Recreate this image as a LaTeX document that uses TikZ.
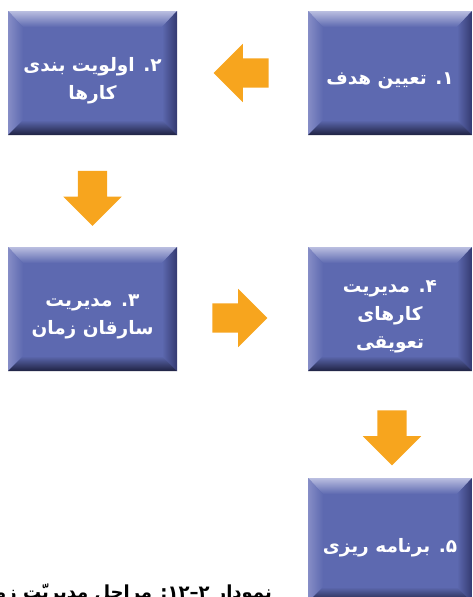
\documentclass[tikz,border=0pt]{standalone}
\usepackage{fontspec}
\usetikzlibrary{shapes.arrows,calc}
\TeXXeTstate=1
\newfontfamily\persianfont[Script=Arabic]{DejaVu Sans}
\definecolor{stepbase}{HTML}{5D69B0}
\definecolor{steptop}{HTML}{BABEE0}
\definecolor{stepleft}{HTML}{868DC6}
\definecolor{stepright}{HTML}{343A70}
\definecolor{stepbottom}{HTML}{1F2242}
\definecolor{arrowfill}{HTML}{F7A51E}
\tikzset{
  stepbox/.style={rectangle, fill=stepbase, minimum height=124pt, inner sep=0pt,
    path picture={
      \coordinate (nw) at (path picture bounding box.north west);
      \coordinate (ne) at (path picture bounding box.north east);
      \coordinate (sw) at (path picture bounding box.south west);
      \coordinate (se) at (path picture bounding box.south east);
      \shade[top color=steptop, bottom color=stepbase] (nw) -- (ne)
        -- ([xshift=-15pt,yshift=-16pt]ne) -- ([xshift=15pt,yshift=-16pt]nw) -- cycle;
      \shade[left color=stepleft, right color=stepbase] (nw) -- ([xshift=15pt,yshift=-16pt]nw)
        -- ([xshift=15pt,yshift=15pt]sw) -- (sw) -- cycle;
      \shade[left color=stepbase, right color=stepright] (ne) -- ([xshift=-15pt,yshift=-16pt]ne)
        -- ([xshift=-15pt,yshift=15pt]se) -- (se) -- cycle;
      \shade[top color=stepbase, bottom color=stepbottom] (sw) -- ([xshift=15pt,yshift=15pt]sw)
        -- ([xshift=-15pt,yshift=15pt]se) -- (se) -- cycle;
    }},
  steptext/.style={text=white, align=center, inner sep=0pt, yshift=-8pt,
    font=\persianfont\bfseries\fontsize{18.5}{28}\selectfont},
  flowarrow/.style={single arrow, fill=arrowfill, inner sep=14.5pt,
    minimum height=55pt, single arrow head extend=14.5pt, single arrow head indent=0pt}
}
\begin{document}
\begin{tikzpicture}[x=1pt,y=-1pt]
\useasboundingbox (0,0) rectangle (472,597);
% steps
\node[stepbox, minimum width=164pt] (S1) at (390,73) {};
\node[stepbox, minimum width=169pt] (S2) at (92.5,73) {};
\node[stepbox, minimum width=169pt] (S3) at (92.5,309) {};
\node[stepbox, minimum width=164pt] (S4) at (390,309) {};
\node[stepbox, minimum width=164pt] (S5) at (390,540) {};
\node[steptext] (T1) at (S1) {\beginR ۱. تعیین هدف\endR};
\node[steptext] (T2) at (S2) {\beginR ۲. اولویت بندی\endR\\\beginR کارها\endR};
\node[steptext] (T3) at (S3) {\beginR ۳. مدیریت\endR\\\beginR سارقان زمان\endR};
\node[steptext] (T4) at (S4) {\beginR ۴. مدیریت\endR\\\beginR کارهای\endR\\\beginR تعویقی\endR};
\node[steptext] (T5) at (S5) {\beginR ۵. برنامه ریزی\endR};
% arrows between steps
\node[flowarrow, shape border rotate=180] (A12) at ($(S1.west)!0.5!(S2.east)+(6,0)$) {};
\node[flowarrow, shape border rotate=270] (A23) at ($(S2.south)!0.5!(S3.north)$) {};
\node[flowarrow] (A34) at ($(S3.east)!0.5!(S4.west)+(-10,9)$) {};
\node[flowarrow, shape border rotate=270] (A45) at ($(S4.south)!0.5!(S5.north)+(2,6)$) {};
% caption
\node[anchor=base east, inner sep=0pt, font=\persianfont\bfseries\fontsize{18}{22}\selectfont] (CAP) at (272,598)
  {\beginR نمودار \beginL ۲–۱۲\endL: مراحل مدیریّت زمان\endR};
\end{tikzpicture}
\end{document}
